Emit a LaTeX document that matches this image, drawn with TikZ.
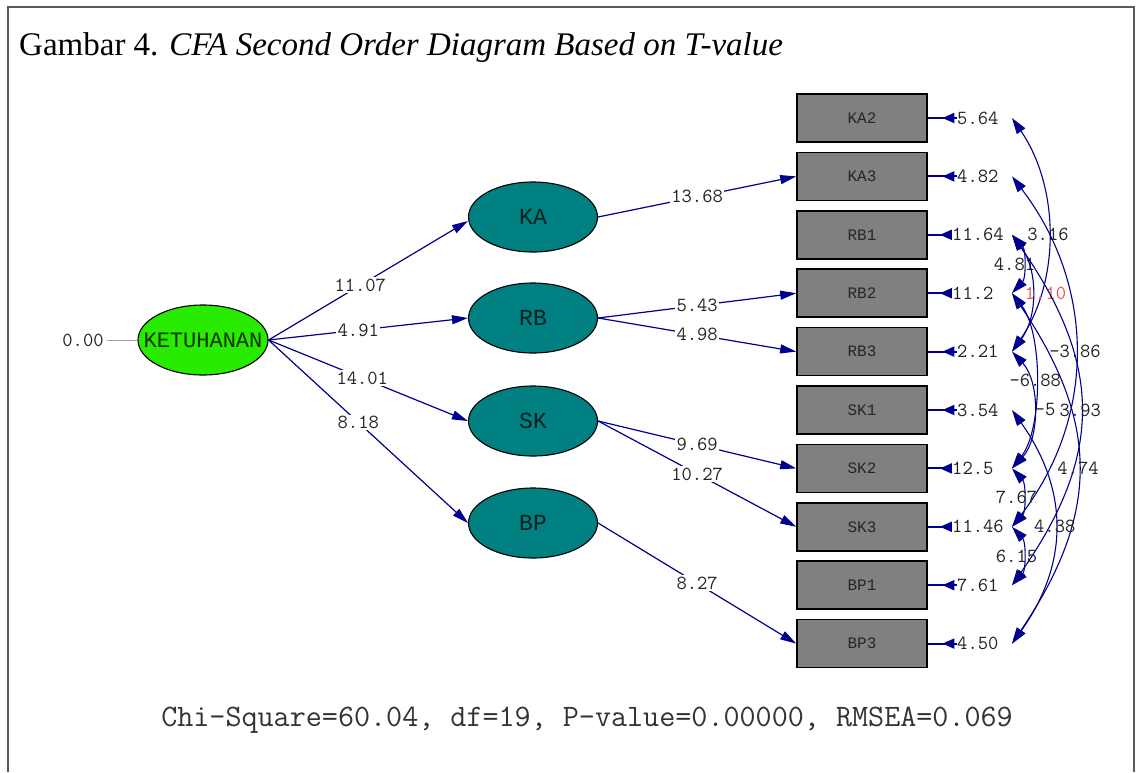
\documentclass[tikz,border=0pt]{standalone}
\usepackage{fontspec}
\setmainfont{Liberation Serif}
\newfontfamily\namefont{Liberation Mono}
\usetikzlibrary{shapes.geometric,arrows.meta,decorations.markings}
\definecolor{lvgreen}{RGB}{40,235,0}
\definecolor{lvteal}{RGB}{0,128,128}
\definecolor{obsgray}{RGB}{128,128,128}
\definecolor{pathblue}{RGB}{0,0,140}
\definecolor{txtgray}{RGB}{35,35,35}
\definecolor{nsred}{RGB}{235,85,85}
\definecolor{framegray}{RGB}{90,90,90}
\begin{document}
\begin{tikzpicture}[x=1pt,y=-1pt,
  latent/.style={ellipse, draw=black, line width=1.1pt, minimum width=129pt,
    minimum height=70pt, inner sep=0pt, fill=lvteal,
    font=\namefont\fontsize{23}{23}\selectfont, text=black!75!lvteal},
  second/.style={latent, fill=lvgreen, minimum width=130pt,
    font=\namefont\fontsize{22}{22}\selectfont, text=black!80!lvgreen},
  obs/.style={rectangle, draw=black, line width=1.6pt, fill=obsgray,
    minimum width=130pt, minimum height=48pt, inner sep=0pt,
    font=\namefont\fontsize{16}{16}\selectfont, text=black!85},
  plabel/.style={fill=white, inner sep=1.5pt, text=txtgray,
    font=\ttfamily\fontsize{20}{20}\selectfont},
  elabel/.style={inner sep=0pt, text=txtgray, anchor=west,
    font=\ttfamily\fontsize{20}{20}\selectfont},
  clabel/.style={inner sep=0pt, text=txtgray,
    font=\ttfamily\fontsize{20}{20}\selectfont},
  path/.style={draw=pathblue, line width=1.2pt,
    -{Triangle[length=16pt,width=9pt]}},
  errarr/.style={draw=pathblue, line width=2pt, postaction={decorate},
    decoration={markings, mark=at position 0.5 with
      {\arrow{Triangle[length=12pt,width=10pt]}}}},
  corr/.style={draw=pathblue, line width=1.1pt,
    {Triangle[length=16pt,width=10pt]}-{Triangle[length=16pt,width=10pt]}},
]
\useasboundingbox (0,0) rectangle (1137,772);
\fill[white] (0,0) rectangle (1137,772);
% frame
\draw[framegray, line width=1.2pt] (8,772) -- (8,7) -- (1134,7) -- (1134,772);
% caption
\node[anchor=base west, inner sep=0pt, font=\fontsize{33}{36}\selectfont]
  (title) at (19,55) {Gambar 4. \textit{CFA Second Order Diagram Based on T-value}};

% latent variables
\node[second] (KET) at (203,340) {\makebox[0pt]{KETUHANAN}};
\node[latent] (KA) at (533,217) {\makebox[0pt]{KA}};
\node[latent] (RB) at (533,318) {\makebox[0pt]{RB}};
\node[latent] (SK) at (533,421) {\makebox[0pt]{SK}};
\node[latent] (BP) at (533,523) {\makebox[0pt]{BP}};

% observed indicators
\node[obs] (KA2) at (862,118.0) {KA2};
\node[obs] (KA3) at (862,176.4) {KA3};
\node[obs] (RB1) at (862,234.8) {RB1};
\node[obs] (RB2) at (862,293.2) {RB2};
\node[obs] (RB3) at (862,351.6) {RB3};
\node[obs] (SK1) at (862,410.0) {SK1};
\node[obs] (SK2) at (862,468.4) {SK2};
\node[obs] (SK3) at (862,526.8) {SK3};
\node[obs] (BP1) at (862,585.2) {BP1};
\node[obs] (BP3) at (862,643.6) {BP3};

% second order variance
\node[clabel] (v0) at (83,340) {0.00};
\draw[gray!70, line width=1pt] (v0.east) ++(3,0) coordinate (v0s) -- (KET.west);

% structural paths
\draw[path] (KET.east) -- ([yshift=-4pt]KA.west) node[plabel,pos=0.46] {11.07};
\draw[path] (KET.east) -- (RB.west)  node[plabel,pos=0.45] {4.91};
\draw[path] (KET.east) -- (SK.west)  node[plabel,pos=0.47] {14.01};
\draw[path] (KET.east) -- (BP.west)  node[plabel,pos=0.45] {8.18};
\draw[path] (KA.east) -- (KA3.west) node[plabel,pos=0.5] {13.68};
\draw[path] (RB.east) -- (RB2.west) node[plabel,pos=0.5] {5.43};
\draw[path] (RB.east) -- (RB3.west) node[plabel,pos=0.5] {4.98};
\draw[path] (SK.east) -- (SK2.west) node[plabel,pos=0.5] {9.69};
\draw[path] (SK.east) -- (SK3.west) node[plabel,pos=0.5] {10.27};
\draw[path] (BP.east) -- (BP3.west) node[plabel,pos=0.5] {8.27};

% measurement errors
\node[elabel] (eKA2) at (957,118.0) {5.64};
\node[elabel] (eKA3) at (957,176.4) {4.82};
\node[elabel] (eRB1) at (952,234.8) {11.64};
\node[elabel] (eRB2) at (952,293.2) {11.2};
\node[elabel] (eRB3) at (957,351.6) {2.21};
\node[elabel] (eSK1) at (957,410.0) {3.54};
\node[elabel] (eSK2) at (952,468.4) {12.5};
\node[elabel] (eSK3) at (952,526.8) {11.46};
\node[elabel] (eBP1) at (957,585.2) {7.61};
\node[elabel] (eBP3) at (957,643.6) {4.50};
\foreach \v in {KA2,KA3,RB1,RB2,RB3,SK1,SK2,SK3,BP1,BP3}{
  \draw[errarr] (e\v.west) -- (\v.east);
  \coordinate (c\v) at (1012,0 |- \v);
}

% error covariances
\draw[corr] (cKA2) .. controls +(48,70) and +(48,-70) .. (cRB3)
  node[clabel,pos=0.5] {3.16};
\draw[corr] (cKA3) .. controls +(84,110) and +(84,-110) .. (cSK3)
  node[clabel,pos=0.5] {-3.86};
\draw[corr] (cRB1) .. controls +(14,15) and +(14,-15) .. (cRB2)
  node[clabel,pos=0.5,xshift=-8pt] {4.81};
\draw[corr] (cRB1) .. controls +(26,35) and +(26,-35) .. (cRB3)
  node[clabel,pos=0.5,xshift=14pt,text=nsred] {1.10};
\draw[corr] (cRB2) .. controls +(31,40) and +(31,-40) .. (cSK2)
  node[clabel,pos=0.5] {-6.88};
\draw[corr] (cRB3) .. controls +(28,30) and +(28,-30) .. (cSK2)
  node[clabel,pos=0.5,xshift=12pt] {-5};
\draw[corr] (cRB1) .. controls +(91,130) and +(91,-130) .. (cBP1)
  node[clabel,pos=0.5] {3.93};
\draw[corr] (cRB2) .. controls +(88,130) and +(88,-130) .. (cBP3)
  node[clabel,pos=0.5] {4.74};
\draw[corr] (cSK2) .. controls +(14,15) and +(14,-15) .. (cSK3)
  node[clabel,pos=0.5,xshift=-6pt] {7.67};
\draw[corr] (cSK1) .. controls +(57,80) and +(57,-80) .. (cBP3)
  node[clabel,pos=0.5] {4.38};
\draw[corr] (cSK3) .. controls +(14,15) and +(14,-15) .. (cBP1)
  node[clabel,pos=0.5,xshift=-6pt] {6.15};

% fit statistics
\node[inner sep=0pt, text=black!80, font=\ttfamily\fontsize{31.2}{32}\selectfont]
  (fit) at (587,720) {Chi-Square=60.04, df=19, P-value=0.00000, RMSEA=0.069};
\end{tikzpicture}
\end{document}
